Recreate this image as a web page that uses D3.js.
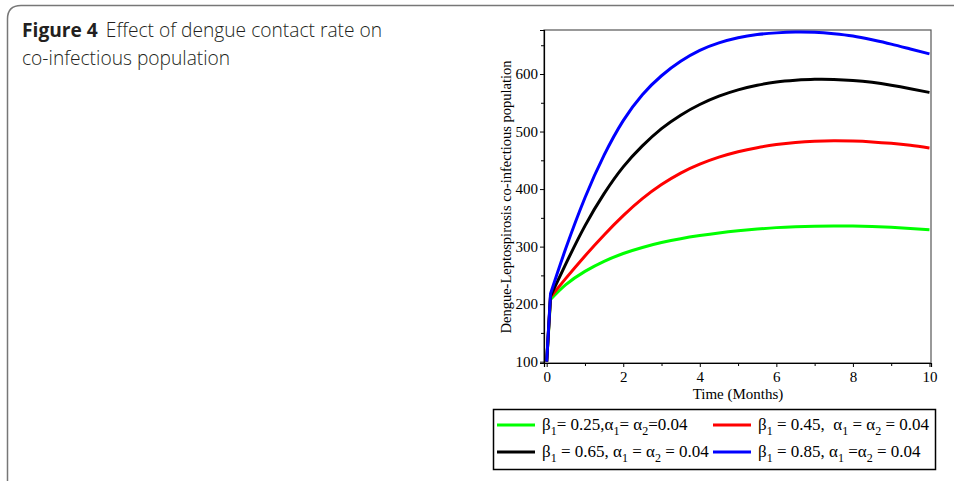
<!DOCTYPE html>
<html>
<head>
<meta charset="utf-8">
<script src="https://cdn.jsdelivr.net/npm/d3@7"></script>
<style>
  body { margin: 0; background: #fff; }
  svg { display: block; }
</style>
</head>
<body>
<script>
// time points (months)
var times = [0, 0.1, 0.5, 1, 1.5, 2, 2.5, 3, 3.5, 4, 4.5, 5, 5.5, 6, 6.5, 7, 7.5, 8, 8.5, 9, 9.5, 10];

// co-infectious population, one array per contact rate
var greenVals = [100, 208, 234, 257, 274.5, 288, 298.5, 307, 313.8, 319.2, 323.8, 327.5, 330.5, 333, 334.6, 335.6, 336, 335.8, 335, 333.6, 331.6, 329.2];
var redVals   = [100, 212, 244.8, 283.8, 320.3, 353.8, 383.3, 407.8, 427.8, 443.3, 455.5, 465, 472, 477.3, 481, 483.2, 484, 483.5, 482, 479.5, 476, 471.5];
var blackVals = [100, 214, 270, 336, 392, 438.5, 475, 505, 528.5, 547, 561.5, 572.5, 580.5, 586, 589, 590.7, 590.5, 588.8, 585.5, 580.5, 574.5, 568];
var blueVals  = [100, 218, 297, 385, 459, 519, 564, 597, 622, 641, 654, 663, 668.5, 671.5, 673, 672.5, 670, 666, 659.5, 652, 643.5, 635];

var seriesColors = ["#00ff00", "#ff0000", "#000000", "#0000ff"];
var seriesVals = [greenVals, redVals, blackVals, blueVals];

// legend labels, "_x" means subscript x
var legendLabels = [
  "β_1= 0.25,α_1= α_2=0.04",
  "β_1 = 0.45,  α_1 = α_2 = 0.04",
  "β_1 = 0.65, α_1 = α_2 = 0.04",
  "β_1 = 0.85, α_1 =α_2 = 0.04"
];

var xMajor = [0, 2, 4, 6, 8, 10];
var xMinor = [1, 3, 5, 7, 9];
var yMajor = [100, 200, 300, 400, 500, 600];
var yMinor = [150, 250, 350, 450, 550, 650];

var width = 954, height = 481;
var serif = "'Liberation Serif', 'Times New Roman', serif";
var sans = "'Open Sans', 'Noto Sans', sans-serif";

var svg = d3.select("body").append("svg")
  .attr("width", width)
  .attr("height", height);

// outer figure frame
svg.append("path")
  .attr("d", "M7.5,481 V19 Q7.5,5.5 21,5.5 H954")
  .attr("fill", "none")
  .attr("stroke", "#777")
  .attr("stroke-width", 1.5);

// caption
var cap = svg.append("text")
  .attr("x", 22)
  .attr("y", 37)
  .style("font-family", sans)
  .style("font-size", "19.2px")
  .style("font-weight", 300)
  .attr("fill", "#231f20");
cap.append("tspan").style("font-weight", "bold").text("Figure 4");
cap.append("tspan").attr("dx", 8).text("Effect of dengue contact rate on");
svg.append("text")
  .attr("x", 22)
  .attr("y", 65)
  .style("font-family", sans)
  .style("font-size", "19.2px")
  .style("font-weight", 300)
  .attr("fill", "#231f20")
  .text("co-infectious population");

// plot area
var x = d3.scaleLinear().domain([-0.07, 10.04]).range([544, 931]);
var y = d3.scaleLinear().domain([97.7, 676.5]).range([363, 30]);

svg.append("rect")
  .attr("x", 544).attr("y", 30)
  .attr("width", 931 - 544).attr("height", 363 - 30)
  .attr("fill", "none")
  .attr("stroke", "#555")
  .attr("stroke-width", 1.2);

svg.append("g")
  .attr("transform", "translate(0,363)")
  .call(d3.axisBottom(x).tickValues(xMajor).tickSize(4).tickPadding(4).tickFormat(d3.format("d")));
svg.append("g")
  .attr("transform", "translate(0,363)")
  .call(d3.axisBottom(x).tickValues(xMinor).tickSize(3).tickFormat(""))
  .select(".domain").remove();

svg.append("g")
  .attr("transform", "translate(544,0)")
  .call(d3.axisLeft(y).tickValues(yMajor).tickSize(4).tickPadding(2).tickFormat(d3.format("d")));
svg.append("g")
  .attr("transform", "translate(544,0)")
  .call(d3.axisLeft(y).tickValues(yMinor).tickSize(3).tickFormat(""))
  .select(".domain").remove();

svg.selectAll(".tick text")
  .style("font-family", serif)
  .style("font-size", "15px")
  .attr("fill", "#000");
svg.selectAll(".domain").attr("stroke", "#000").attr("stroke-width", 1.2);

// axis titles
svg.append("text")
  .attr("x", 738).attr("y", 399)
  .attr("text-anchor", "middle")
  .style("font-family", serif)
  .style("font-size", "15px")
  .text("Time (Months)");

svg.append("text")
  .attr("transform", "translate(511,197) rotate(-90)")
  .attr("text-anchor", "middle")
  .style("font-family", serif)
  .style("font-size", "14.5px")
  .text("Dengue-Leptospirosis co-infectious population");

// curves: straight initial jump, then a smooth spline
var smooth = d3.line()
  .x(function(d) { return x(d[0]); })
  .y(function(d) { return y(d[1]); })
  .curve(d3.curveNatural);

svg.append("clipPath").attr("id", "plotclip")
  .append("rect").attr("x", 544).attr("y", 30).attr("width", 387).attr("height", 333);

svg.append("g")
  .attr("clip-path", "url(#plotclip)")
  .selectAll("path")
  .data(seriesVals)
  .enter()
  .append("path")
  .attr("d", function(vals) {
    var pts = times.map(function(t, i) { return [t, vals[i]]; });
    var head = "M" + x(pts[0][0]) + "," + y(pts[0][1]);
    return head + "L" + smooth(pts.slice(1)).slice(1);
  })
  .attr("fill", "none")
  .attr("stroke", function(d, i) { return seriesColors[i]; })
  .attr("stroke-width", 3)
  .attr("stroke-linejoin", "round");

// legend
svg.append("rect")
  .attr("x", 493.5).attr("y", 409.5)
  .attr("width", 442).attr("height", 60)
  .attr("fill", "#fff")
  .attr("stroke", "#000")
  .attr("stroke-width", 1.5);

var legendPos = [[497, 425], [713, 425], [497, 452], [713, 452]];

function addLabel(sel, label) {
  var parts = label.split("_");
  sel.append("tspan").text(parts[0]);
  for (var k = 1; k < parts.length; k++) {
    sel.append("tspan").attr("dy", 5).style("font-size", "12px").text(parts[k][0]);
    sel.append("tspan").attr("dy", -5).text(parts[k].slice(1));
  }
}

legendPos.forEach(function(p, i) {
  svg.append("line")
    .attr("x1", p[0]).attr("x2", p[0] + 38)
    .attr("y1", p[1]).attr("y2", p[1])
    .attr("stroke", seriesColors[i])
    .attr("stroke-width", 3);
  var t = svg.append("text")
    .attr("x", p[0] + 45)
    .attr("y", p[1] + 5)
    .attr("xml:space", "preserve")
    .style("white-space", "pre")
    .style("font-family", serif)
    .style("font-size", "17px");
  addLabel(t, legendLabels[i]);
});
</script>
</body>
</html>
